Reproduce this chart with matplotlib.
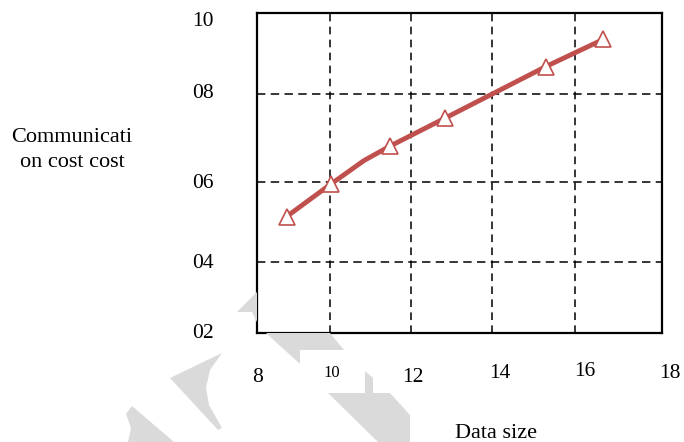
import matplotlib.pyplot as plt
from matplotlib.patches import Polygon
from matplotlib.transforms import blended_transform_factory

plt.rcParams['font.family'] = ['Liberation Serif', 'DejaVu Serif']

# measured series (x = data size, y = communication cost)
data_size = [8.73, 9.82, 10.64, 11.28, 12.64, 15.13, 16.55]
comm_cost = [4.91, 5.72, 6.31, 6.67, 7.37, 8.66, 9.34]
marked = [0, 1, 3, 4, 5, 6]

# grid line positions and tick labels as drawn in the source figure
x_grid = [9.81, 11.80, 13.80, 15.85]
y_grid = [3.77, 5.77, 7.975]
x_labels = ['8', '10', '12', '14', '16', '18']
x_label_pos = [8.02, 9.85, 11.85, 14.0, 16.1, 18.2]
x_label_dy = [377, 373, 378, 374, 372, 374]
x_label_size = [15.5, 12, 15.5, 15.5, 15.5, 15.5]
y_labels = ['10', '08', '06', '04', '02']
y_label_pos = [9.78, 8.0, 5.75, 3.75, 1.98]

W, H = 684, 442
fig = plt.figure(figsize=(6.84, 4.42), dpi=100)

# faint grey watermark shapes behind the chart
shapes = [
    [(237, 312), (257, 292), (257, 322), (252, 312)],
    [(266, 333), (330, 333), (344, 350), (300, 350), (300, 364)],
    [(222, 353), (170, 378), (218, 430), (222, 428), (209, 405),
     (206, 388), (210, 370)],
    [(126, 414), (132, 406), (174, 442), (128, 442), (131, 428)],
    [(365, 371), (373, 378), (373, 393), (390, 393), (410, 415),
     (410, 442), (378, 442), (328, 393), (365, 393)],
]
for s in shapes:
    pts = [(px / W, 1 - py / H) for px, py in s]
    fig.patches.append(Polygon(pts, closed=True, transform=fig.transFigure,
                               facecolor='#dadada', edgecolor='none', zorder=0))

ax = fig.add_axes([257 / W, 1 - 333 / H, 405 / W, 320 / H])
ax.set_facecolor('white')
ax.set_xlim(8, 18)
ax.set_ylim(2, 10)

ax.set_xticks([])
ax.set_yticks([])
for g in x_grid:
    ax.axvline(g, color='black', lw=1.1, ls=(0, (5, 3.5)), zorder=1)
for g in y_grid:
    ax.axhline(g, color='black', lw=1.1, ls=(0, (5.5, 3.5)), zorder=1)

for sp in ax.spines.values():
    sp.set_linewidth(1.6)

ax.plot(data_size, comm_cost, color='#C0504D', lw=3.5, marker='^',
        markevery=marked, markersize=11.5, markerfacecolor='white',
        markeredgecolor='#C0504D', markeredgewidth=1.2, zorder=3,
        clip_on=False)

tx = blended_transform_factory(ax.transData, fig.transFigure)
for lab, xp, dy, fs in zip(x_labels, x_label_pos, x_label_dy, x_label_size):
    ax.text(xp, 1 - dy / H, lab, transform=tx, ha='center', va='center',
            fontsize=fs)

ty = blended_transform_factory(fig.transFigure, ax.transData)
for lab, yp in zip(y_labels, y_label_pos):
    ax.text(203 / W, yp, lab, transform=ty, ha='center', va='center',
            fontsize=15.5)

fig.text(72 / W, 1 - 150 / H, 'Communicati\non cost cost', ha='center',
         va='center', fontsize=16, linespacing=1.45)
fig.text(496 / W, 1 - 434 / H, 'Data size', ha='center', va='center',
         fontsize=16)

fig.savefig('out.png', dpi=100)
